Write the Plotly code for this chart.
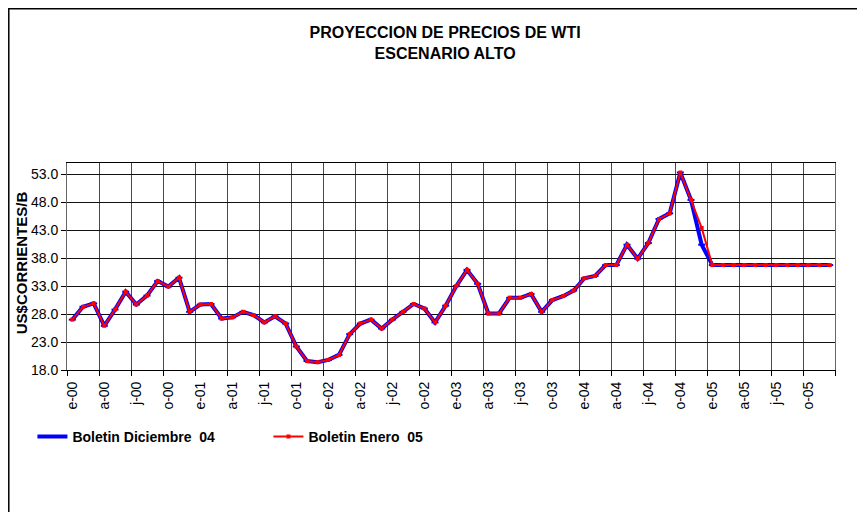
import plotly.graph_objects as go

# meses ene-2000 .. dic-2005
meses = ["e-00", "f-00", "m-00", "a-00", "m-00", "j-00", "j-00", "a-00", "s-00", "o-00", "n-00", "d-00",
         "e-01", "f-01", "m-01", "a-01", "m-01", "j-01", "j-01", "a-01", "s-01", "o-01", "n-01", "d-01",
         "e-02", "f-02", "m-02", "a-02", "m-02", "j-02", "j-02", "a-02", "s-02", "o-02", "n-02", "d-02",
         "e-03", "f-03", "m-03", "a-03", "m-03", "j-03", "j-03", "a-03", "s-03", "o-03", "n-03", "d-03",
         "e-04", "f-04", "m-04", "a-04", "m-04", "j-04", "j-04", "a-04", "s-04", "o-04", "n-04", "d-04",
         "e-05", "f-05", "m-05", "a-05", "m-05", "j-05", "j-05", "a-05", "s-05", "o-05", "n-05", "d-05"]

boletin_dic04 = [27.0, 29.3, 29.9, 25.9, 28.8, 32.0, 29.7, 31.3, 33.9, 32.9, 34.5, 28.4,
                 29.7, 29.8, 27.2, 27.4, 28.4, 27.8, 26.5, 27.6, 26.3, 22.2, 19.6, 19.4,
                 19.8, 20.7, 24.4, 26.3, 27.0, 25.4, 27.0, 28.4, 29.8, 29.0, 26.5, 29.5,
                 33.0, 35.9, 33.4, 28.1, 28.1, 30.9, 30.9, 31.6, 28.4, 30.5, 31.2, 32.2,
                 34.4, 34.8, 36.75, 36.75, 40.4, 37.9, 40.7, 45.0, 46.0, 53.3, 48.4, 40.4,
                 36.75, 36.75, 36.75, 36.75, 36.75, 36.75, 36.75, 36.75, 36.75, 36.75, 36.75, 36.75]

boletin_ene05 = [27.0, 29.3, 29.9, 25.9, 28.8, 32.0, 29.7, 31.3, 33.9, 32.9, 34.5, 28.4,
                 29.7, 29.8, 27.2, 27.4, 28.4, 27.8, 26.5, 27.6, 26.3, 22.2, 19.6, 19.4,
                 19.8, 20.7, 24.4, 26.3, 27.0, 25.4, 27.0, 28.4, 29.8, 29.0, 26.5, 29.5,
                 33.0, 35.9, 33.4, 28.1, 28.1, 30.9, 30.9, 31.6, 28.4, 30.5, 31.2, 32.2,
                 34.4, 34.8, 36.75, 36.75, 40.4, 37.9, 40.7, 45.0, 46.0, 53.3, 48.4, 43.4,
                 36.75, 36.75, 36.75, 36.75, 36.75, 36.75, 36.75, 36.75, 36.75, 36.75, 36.75, 36.75]

y_ticks = [18.0, 23.0, 28.0, 33.0, 38.0, 43.0, 48.0, 53.0]

FONT = "Liberation Sans, Arial, sans-serif"

x = list(range(len(meses)))
tick_pos = x[::3]
tick_txt = meses[::3]

fig = go.Figure()
fig.add_trace(go.Scatter(
    x=x, y=boletin_dic04, name="<b>Boletin Diciembre  04</b>", mode="lines+markers",
    line=dict(color="#0000ff", width=4),
    marker=dict(symbol="line-ew", size=5, color="#0000ff", line=dict(color="#0000ff", width=2)),
))
fig.add_trace(go.Scatter(
    x=x, y=boletin_ene05, name="<b>Boletin Enero  05</b>", mode="lines+markers",
    line=dict(color="#ff0000", width=2),
    marker=dict(symbol="square", size=4, color="#ff0000"),
))

fig.update_xaxes(
    range=[-0.5, len(meses) - 0.5],
    tickmode="array", tickvals=tick_pos, ticktext=tick_txt, tickangle=-90,
    ticks="", showgrid=False, ticklabelstandoff=5,
    minor=dict(tick0=-0.5, dtick=3, showgrid=True, gridcolor="#4a4a4a", gridwidth=1,
               ticks="outside", ticklen=5, tickcolor="#000"),
    showline=True, linecolor="#000", linewidth=1, mirror=True,
    tickfont=dict(family=FONT, size=14, color="#000"),
    zeroline=False,
)
fig.update_yaxes(
    range=[18, 55],
    tickmode="array", tickvals=y_ticks, ticktext=[f"{v:.1f}" for v in y_ticks],
    ticks="outside", ticklen=5, tickcolor="#000",
    showgrid=True, gridcolor="#111", gridwidth=1,
    showline=True, linecolor="#666", linewidth=1, mirror=True,
    tickfont=dict(family=FONT, size=14, color="#000"),
    zeroline=False,
)

fig.add_annotation(
    text="<b>US$CORRIENTES/B</b>", textangle=-90, showarrow=False,
    xref="paper", yref="paper", x=-0.060, y=0.52, xanchor="center", yanchor="middle",
    font=dict(family=FONT, size=15, color="#000"),
)

# marco exterior del grafico (borde izquierdo y superior)
fig.add_shape(type="rect", xref="paper", yref="paper",
              x0=-0.0758, x1=1.2, y0=-0.8, y1=1.745,
              line=dict(color="#000", width=1.5), fillcolor="rgba(0,0,0,0)", layer="below")

# la pagina agrega 8px de margen: el lienzo se ajusta para que el area quede igual
fig.update_layout(
    width=857, height=504,
    margin=dict(l=59, r=30, t=155, b=142),
    paper_bgcolor="white", plot_bgcolor="white",
    title=dict(text="<b>PROYECCION DE PRECIOS DE WTI<br>ESCENARIO ALTO</b>",
               x=0.51, xref="container", xanchor="center",
               y=0.941, yref="container", yanchor="top",
               font=dict(family=FONT, size=16, color="#000")),
    legend=dict(orientation="h", x=-0.045, y=-0.246, xanchor="left", yanchor="top",
                entrywidth=191, entrywidthmode="pixels",
                font=dict(family=FONT, size=14, color="#000"),
                bgcolor="rgba(0,0,0,0)", traceorder="normal"),
    showlegend=True,
)

fig.write_html("out.html")
